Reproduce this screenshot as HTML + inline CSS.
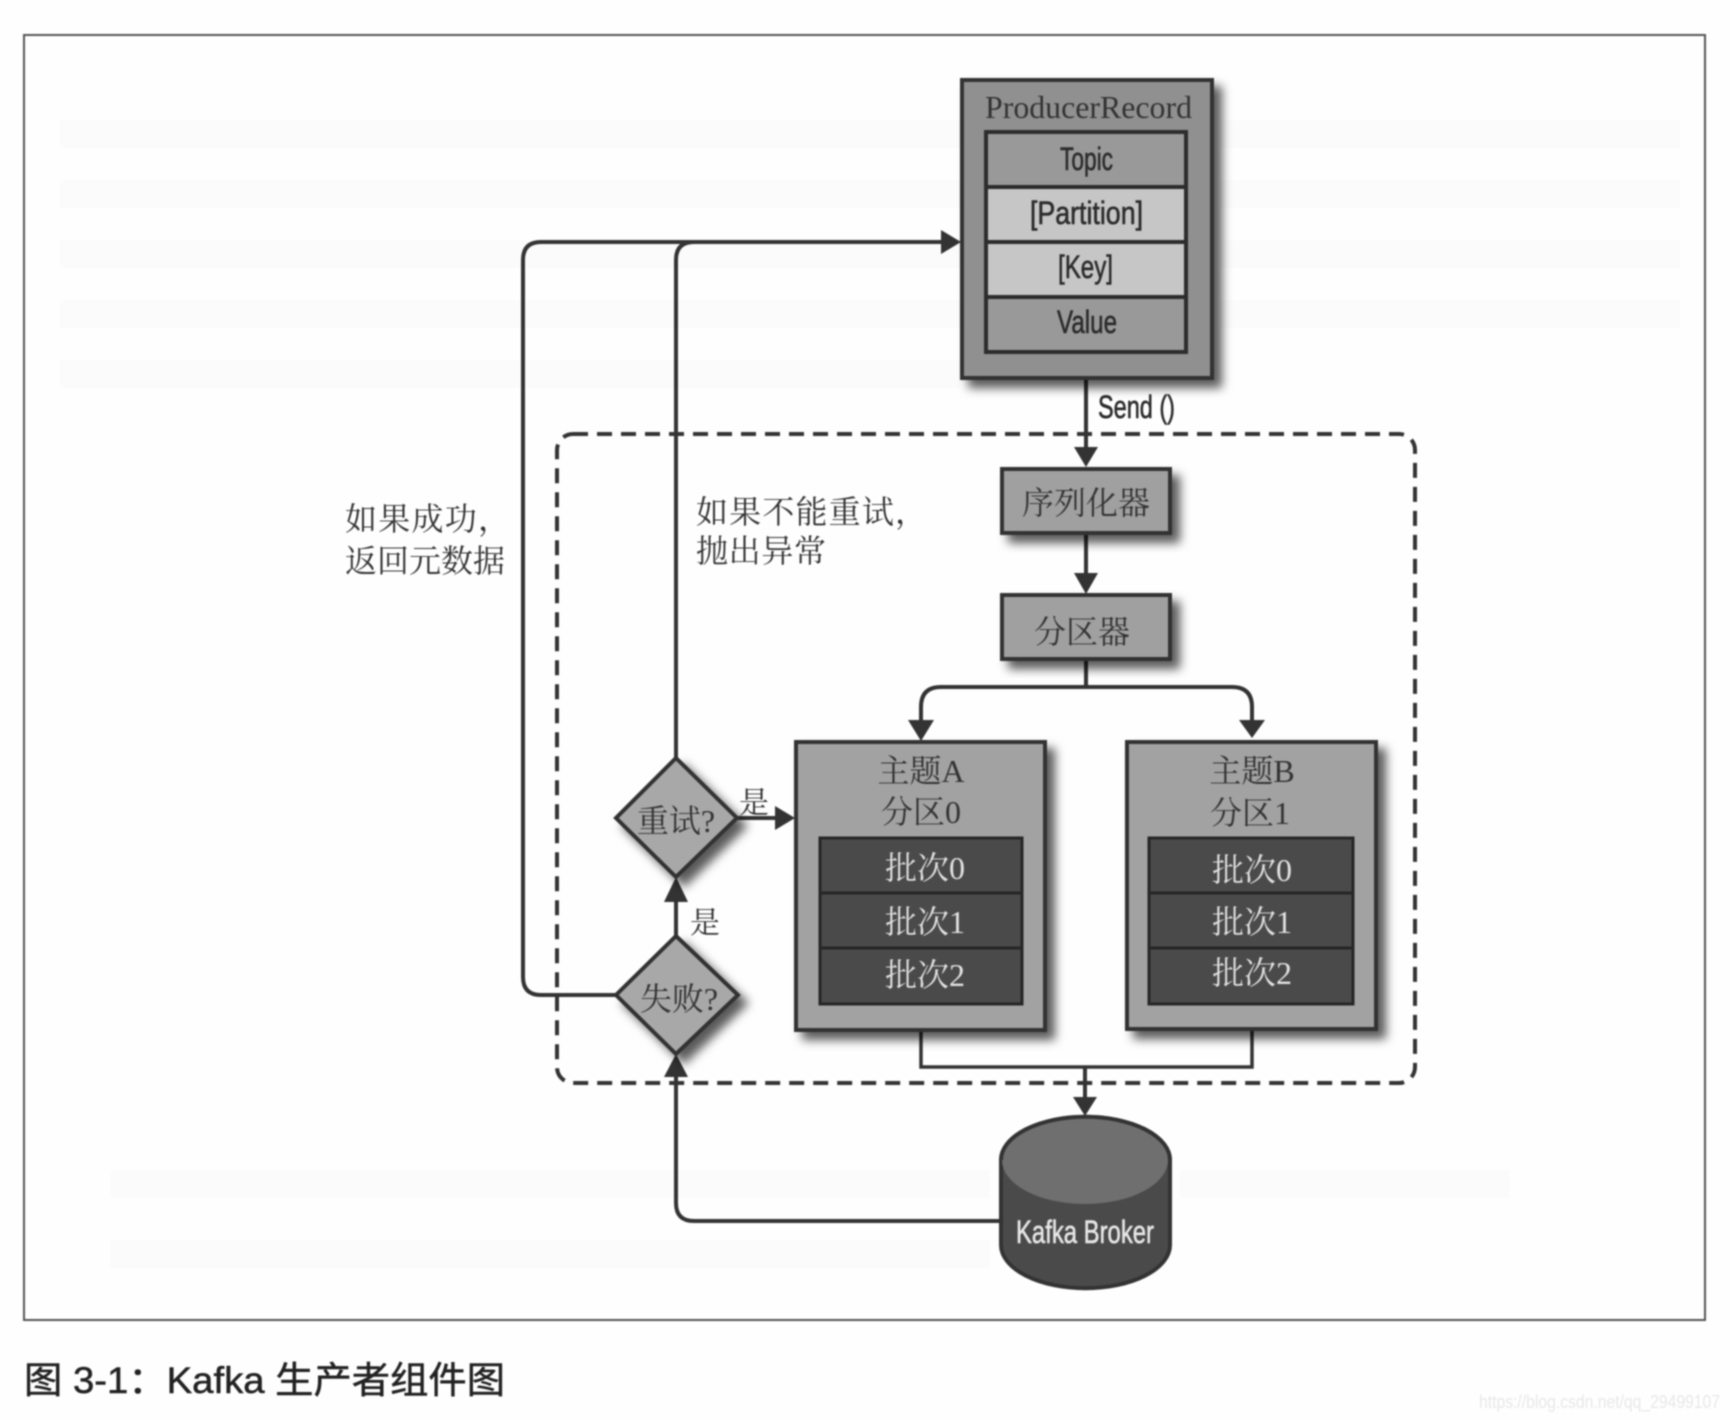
<!DOCTYPE html>
<html lang="zh">
<head>
<meta charset="utf-8">
<title>Kafka 生产者组件图</title>
<style>
html,body{margin:0;padding:0;background:#fefefe;width:1730px;height:1420px;overflow:hidden}
svg{display:block;filter:blur(0.7px)}
.s{font-family:"Liberation Serif","Noto Serif CJK SC",serif}
.c{font-family:"Liberation Serif","Noto Serif CJK SC",serif;font-size:32px;text-anchor:middle;fill:#333}
.n{font-family:"Liberation Sans",sans-serif;font-size:32px;fill:#2c2c2c;stroke:#2c2c2c;stroke-width:.6}
.w{fill:#e8e8e8}
.box{stroke:#333;stroke-width:4}
.ln{fill:none;stroke:#333;stroke-width:4}
.ah{fill:#333}
</style>
</head>
<body>
<svg width="1730" height="1420" viewBox="0 0 1730 1420" xmlns="http://www.w3.org/2000/svg">
<defs>
<filter id="sh" x="-20%" y="-20%" width="150%" height="150%">
<feDropShadow dx="8" dy="8" stdDeviation="5" flood-color="#000" flood-opacity="0.65"/>
</filter>
</defs>
<rect width="1730" height="1420" fill="#fefefe"/>
<!-- faint show-through -->
<g fill="#fbfbfb">
<rect x="60" y="120" width="900" height="28"/><rect x="60" y="180" width="900" height="28"/>
<rect x="60" y="240" width="900" height="28"/><rect x="60" y="300" width="900" height="28"/>
<rect x="60" y="360" width="900" height="28"/><rect x="1220" y="120" width="460" height="28"/>
<rect x="1220" y="180" width="460" height="28"/><rect x="1220" y="240" width="460" height="28"/>
<rect x="1220" y="300" width="460" height="28"/><rect x="110" y="1170" width="880" height="28"/>
<rect x="110" y="1240" width="880" height="28"/><rect x="1180" y="1170" width="330" height="28"/>
</g>
<!-- frame -->
<rect x="24" y="35" width="1681" height="1285" fill="none" stroke="#555" stroke-width="2"/>
<!-- dashed region -->
<rect x="557" y="434" width="858" height="649" rx="16" fill="none" stroke="#333" stroke-width="4" stroke-dasharray="15 9"/>
<!-- connectors -->
<path class="ln" d="M616 995H541Q523 995 523 977V260Q523 242 541 242H945"/>
<path class="ln" d="M676 758V260Q676 242 694 242"/>
<path class="ln" d="M1086 378V450"/>
<path class="ln" d="M1086 533V575"/>
<path class="ln" d="M1086 660V687"/>
<path class="ln" d="M921 725V707Q921 687 941 687H1232Q1252 687 1252 707V725"/>
<path class="ln" d="M737 818H780"/>
<path class="ln" d="M676 936V898"/>
<path class="ln" d="M1000 1221H694Q676 1221 676 1203V1072"/>
<path class="ln" d="M921 1030V1067H1252V1028" style="stroke-width:3.5"/>
<path class="ln" d="M1085 1067V1100"/>
<!-- arrowheads -->
<polygon class="ah" points="961,242 941,230 941,254"/>
<polygon class="ah" points="1086,467 1074,447 1098,447"/>
<polygon class="ah" points="1086,594 1074,573 1098,573"/>
<polygon class="ah" points="921,741 908,720 934,720"/>
<polygon class="ah" points="1252,738 1239,720 1265,720"/>
<polygon class="ah" points="795,818 775,806 775,830"/>
<polygon class="ah" points="676,877 664,902 688,902"/>
<polygon class="ah" points="676,1054 664,1077 688,1077"/>
<polygon class="ah" points="1085,1116 1073,1097 1097,1097"/>
<!-- ProducerRecord -->
<rect class="box" x="962" y="80" width="250" height="298" fill="#909090" filter="url(#sh)"/>
<rect x="986" y="132" width="200" height="55" fill="#999"/>
<rect x="986" y="187" width="200" height="55" fill="#c6c6c6"/>
<rect x="986" y="242" width="200" height="55" fill="#c6c6c6"/>
<rect x="986" y="297" width="200" height="55" fill="#999"/>
<path d="M986 132H1186V352H986ZM986 187H1186M986 242H1186M986 297H1186" fill="none" stroke="#2c2c2c" stroke-width="4"/>
<text class="s" x="985" y="118" font-size="32" fill="#333" textLength="207" lengthAdjust="spacingAndGlyphs">ProducerRecord</text>
<text class="n" x="1060" y="170" textLength="53" lengthAdjust="spacingAndGlyphs">Topic</text>
<text class="n" x="1030" y="224" textLength="113" lengthAdjust="spacingAndGlyphs">[Partition]</text>
<text class="n" x="1058" y="278" textLength="55" lengthAdjust="spacingAndGlyphs">[Key]</text>
<text class="n" x="1057" y="333" textLength="60" lengthAdjust="spacingAndGlyphs">Value</text>
<text class="n" x="1098" y="418" textLength="77" lengthAdjust="spacingAndGlyphs">Send ()</text>
<!-- serializer / partitioner -->
<rect class="box" x="1002" y="469" width="168" height="64" fill="#a0a0a0" filter="url(#sh)"/>
<text class="c" x="1086" y="514">序列化器</text>
<rect class="box" x="1002" y="595" width="168" height="64" fill="#a0a0a0" filter="url(#sh)"/>
<text class="c" x="1082" y="643">分区器</text>
<!-- Topic A -->
<rect class="box" x="796" y="742" width="249" height="288" fill="#a2a2a2" filter="url(#sh)"/>
<text class="c" x="921" y="786" dy="-4">主题A</text>
<text class="c" x="921" y="823">分区0</text>
<rect x="820" y="838" width="202" height="55" fill="#4a4a4a"/>
<rect x="820" y="893" width="202" height="55" fill="#4a4a4a"/>
<rect x="820" y="948" width="202" height="56" fill="#4a4a4a"/>
<path d="M820 838H1022V1004H820ZM820 893H1022M820 948H1022" fill="none" stroke="#262626" stroke-width="3"/>
<text class="c" x="925" y="879" style="fill:#e2e2e2">批次0</text>
<text class="c" x="925" y="933" style="fill:#e2e2e2">批次1</text>
<text class="c" x="925" y="986" style="fill:#e2e2e2">批次2</text>
<!-- Topic B -->
<rect class="box" x="1127" y="742" width="249" height="287" fill="#a2a2a2" filter="url(#sh)"/>
<text class="c" x="1252" y="782">主题B</text>
<text class="c" x="1250" y="824">分区1</text>
<rect x="1149" y="838" width="204" height="55" fill="#4a4a4a"/>
<rect x="1149" y="893" width="204" height="55" fill="#4a4a4a"/>
<rect x="1149" y="948" width="204" height="56" fill="#4a4a4a"/>
<path d="M1149 838H1353V1004H1149ZM1149 893H1353M1149 948H1353" fill="none" stroke="#262626" stroke-width="3"/>
<text class="c" x="1252" y="881" style="fill:#e2e2e2">批次0</text>
<text class="c" x="1252" y="933" style="fill:#e2e2e2">批次1</text>
<text class="c" x="1252" y="984" style="fill:#e2e2e2">批次2</text>
<!-- diamonds -->
<polygon class="box" points="676,758 737,818 676,877 616,818" fill="#a8a8a8" filter="url(#sh)"/>
<text class="c" x="676" y="832">重试?</text>
<polygon class="box" points="676,936 738,995 676,1054 616,995" fill="#a8a8a8" filter="url(#sh)"/>
<text class="c" x="679" y="1010">失败?</text>
<!-- broker -->
<path d="M1001 1160A84 43 0 0 1 1170 1160V1245A84 43 0 0 1 1001 1245Z" fill="#4a4a4a" stroke="#333" stroke-width="4"/>
<ellipse cx="1085" cy="1160" rx="83" ry="44" fill="#6f6f6f"/>
<path d="M1001 1160A84 43 0 0 1 1170 1160" fill="none" stroke="#333" stroke-width="4"/>
<text class="n" x="1016" y="1243" textLength="138" lengthAdjust="spacingAndGlyphs" style="fill:#e6e6e6;stroke:#e6e6e6">Kafka Broker</text>
<!-- labels -->
<text class="s" x="345" y="530" font-size="32" fill="#333" textLength="165">如果成功，</text>
<text class="s" x="345" y="572" font-size="32" fill="#333" textLength="160">返回元数据</text>
<text class="s" x="696" y="523" font-size="32" fill="#333" textLength="231">如果不能重试，</text>
<text class="s" x="696" y="562" font-size="32" fill="#333" textLength="130">抛出异常</text>
<text class="c" x="754" y="813" style="font-size:30px">是</text>
<text class="c" x="705" y="933" style="font-size:30px">是</text>
<!-- caption -->
<text x="24" y="1393" font-size="37" fill="#222" stroke="#222" stroke-width=".5" textLength="481" lengthAdjust="spacingAndGlyphs" style="font-family:'Liberation Sans','Noto Sans CJK SC',sans-serif">图 3-1：Kafka 生产者组件图</text>
<text x="1479" y="1408" font-size="18" class="w" textLength="241" lengthAdjust="spacingAndGlyphs" style="font-family:'Liberation Sans',sans-serif">https://blog.csdn.net/qq_29499107</text>
</svg>
</body>
</html>
